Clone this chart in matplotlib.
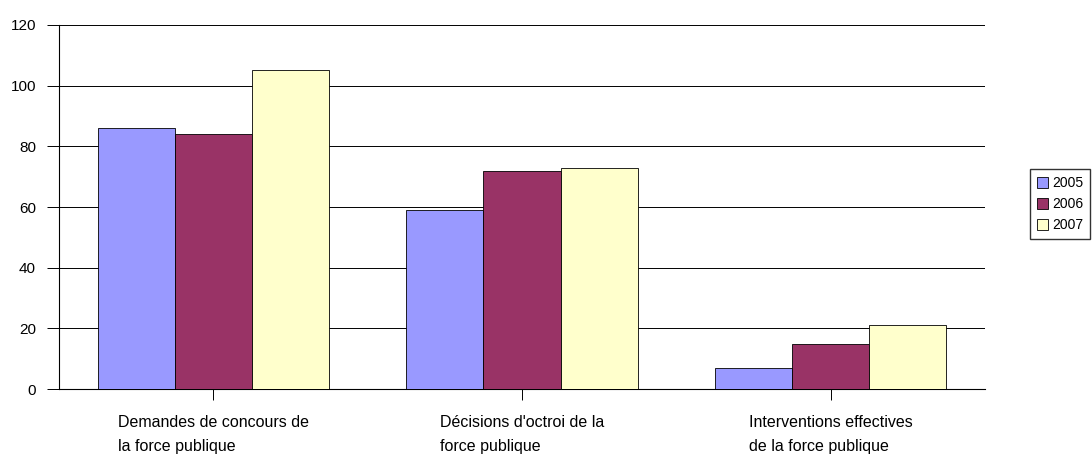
import numpy as np
import matplotlib.pyplot as plt

# -----------------------------
# DATA
# -----------------------------

categories = [
    "Demandes de concours de\nla force publique",
    "Décisions d'octroi de la\nforce publique",
    "Interventions effectives\nde la force publique",
]
years = ["2005", "2006", "2007"]
values_2005 = [86, 59, 7]
values_2006 = [84, 72, 15]
values_2007 = [105, 73, 21]

colors = ["#9999FF", "#993366", "#FFFFCC"]

plt.rcParams['font.family'] = ['Liberation Sans', 'DejaVu Sans']

# -----------------------------
# FIGURE
# -----------------------------

fig = plt.figure(figsize=(10.92, 4.54), dpi=100)
ax = fig.add_axes([0.054, 0.143, 0.848, 0.802])

x = np.arange(len(categories))
width = 0.25

series = [values_2005, values_2006, values_2007]
for i, (vals, yr, col) in enumerate(zip(series, years, colors)):
    ax.bar(
        x + (i - 1) * width,
        vals,
        width,
        color=col,
        edgecolor="black",
        linewidth=0.6,
        label=yr,
        zorder=3
    )

ax.set_xlim(-0.5, 2.5)
ax.set_ylim(0, 120)
ax.set_yticks(range(0, 121, 20))
ax.yaxis.grid(True, color="black", linewidth=0.7, zorder=0)

ax.set_xticks(x)
ax.set_xticklabels(categories, fontsize=11.5, multialignment="left", linespacing=1.7)

for s in ["top", "right"]:
    ax.spines[s].set_visible(False)
ax.spines["left"].set_linewidth(0.8)
ax.spines["bottom"].set_linewidth(0.8)

ax.tick_params(axis="y", length=8.5, width=0.7, labelsize=11, pad=8)
ax.tick_params(axis="x", length=8, width=0.7, pad=11)

fig.legend(
    loc="center left",
    bbox_to_anchor=(0.943, 0.55),
    fontsize=10,
    frameon=True,
    fancybox=False,
    edgecolor="black",
    handlelength=0.8,
    handleheight=0.8,
    handletextpad=0.3,
    borderpad=0.5,
    labelspacing=0.5,
    borderaxespad=0
)

fig.savefig("out.png", dpi=100)
